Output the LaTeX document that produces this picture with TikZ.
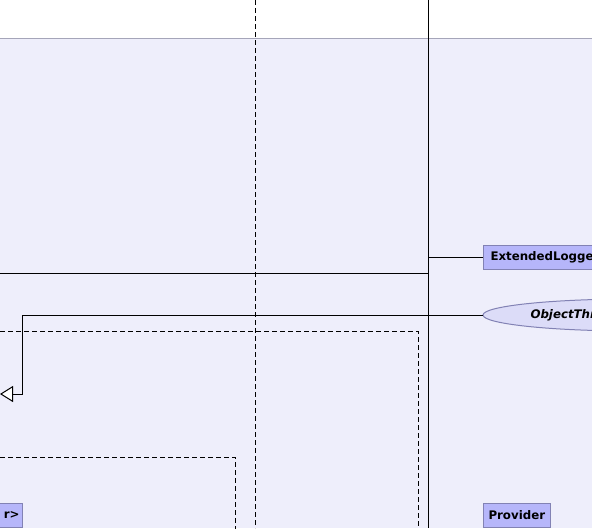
\documentclass[tikz,border=0pt]{standalone}
\usepackage{fontspec}
\setmainfont{DejaVu Sans}
\usetikzlibrary{arrows.meta,shapes.geometric}

\definecolor{lanebg}{RGB}{238,238,251}
\definecolor{laneedge}{RGB}{165,165,185}
\definecolor{clsfill}{RGB}{182,182,250}
\definecolor{clsedge}{RGB}{130,130,180}
\definecolor{ifcfill}{RGB}{220,220,248}
\definecolor{ifcedge}{RGB}{160,160,195}

\begin{document}
\begin{tikzpicture}[x=1pt, y=-1pt, line width=1pt,
  cls/.style={draw=clsedge, fill=clsfill, font=\bfseries\fontsize{11.8}{14}\selectfont,
    minimum height=24pt, inner xsep=5pt, inner ysep=0pt},
  ifc/.style={ellipse, draw=clsedge, fill=ifcfill, minimum height=32pt},
  pkgline/.style={dash pattern=on 5pt off 3pt}]
  \useasboundingbox (0,0) rectangle (592,528);
  \clip (0,0) rectangle (592,528);

  % background
  \fill[lanebg] (0,38) rectangle (592,528);
  \draw[laneedge] (0,38) -- (592,38);

  % lifelines
  \draw[pkgline] (255,0) -- (255,528);
  \draw (428,0) -- (428,528);
  \draw (0,273) -- (428,273);

  % package frames
  \draw[pkgline] (0,331) -- (418,331) -- (418,540);
  \draw[pkgline] (0,457) -- (235,457) -- (235,540);

  % classes
  \node[cls, anchor=west, inner xsep=7pt] (extlog) at (483,257) {ExtendedLogger};
  \node[cls, anchor=west] (prov) at (483,515) {Provider};
  \node[cls, anchor=east, text width=60pt, align=right, inner xsep=3pt] (gen) at (23,515) {r>};

  % interface
  \node[ifc, minimum width=300pt] (otcm) at (633,315) {};
  \node[anchor=west, inner sep=0pt, font=\bfseries\itshape\fontsize{11.8}{14}\selectfont] (otcmtxt) at (530,315) {ObjectThreadContextMap};

  % connectors
  \coordinate (jn) at (428,257);
  \coordinate (bend) at (22,394);
  \coordinate (tip) at (0,394);
  \draw (jn) -- (extlog.west);
  \draw[-{Triangle[open, fill=white, length=13pt, width=16pt]}] (otcm.west) -| (bend) -- (tip);
\end{tikzpicture}
\end{document}
